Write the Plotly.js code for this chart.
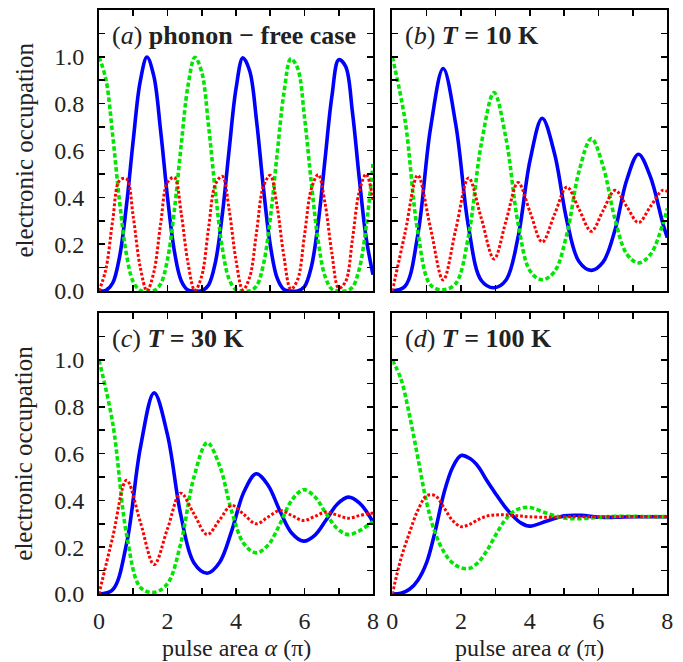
<!DOCTYPE html>
<html>
<head>
<meta charset="utf-8">
<script src="https://cdn.plot.ly/plotly-3.0.1.min.js"></script>
<style>html,body{margin:0;padding:0;background:#fff;}#chart{width:683px;height:662px;}</style>
</head>
<body>
<div id="chart"></div>
<script>
// ---------- data ----------
// panel (a): phonon-free case
const xA = [0,0.2,0.4,0.6,0.8,1.0,1.2,1.4,1.6,1.8,2.0,2.2,2.4,2.6,2.8,3.0,3.2,3.4,3.6,3.8,4.0,4.2,4.4,4.6,4.8,5.0,5.2,5.4,5.6,5.8,6.0,6.2,6.4,6.6,6.8,7.0,7.2,7.4,7.6,7.8,8.0];
const blueA = [0,0.0024,0.0341,0.1460,0.3629,0.6445,0.8923,0.9988,0.9184,0.6831,0.4008,0.1708,0.0442,0.0040,0,0.0011,0.0259,0.1237,0.3263,0.6031,0.8636,0.9956,0.9397,0.7266,0.4402,0.1974,0.0559,0.0064,0,0.0006,0.0191,0.1032,0.2915,0.5628,0.8314,0.9874,0.9594,0.7632,0.4802,0.2266,0.0695];
const greenA = [1,0.9053,0.6647,0.3818,0.1581,0.0389,0.0031,0,0.0017,0.0301,0.1346,0.3442,0.6238,0.8779,0.9981,0.9343,0.7041,0.4203,0.1838,0.0499,0.0050,0,0.0009,0.0218,0.1132,0.3088,0.5831,0.8466,0.9920,0.9506,0.7426,0.4606,0.2117,0.0624,0.0078,0,0.0004,0.0160,0.0942,0.2745,0.5423];
const redA = [0,0.0923,0.3012,0.4722,0.4790,0.3166,0.1047,0.0012,0.0799,0.2868,0.4645,0.4850,0.3321,0.1181,0.0019,0.0646,0.2700,0.4560,0.4898,0.3470,0.1314,0.0044,0.0593,0.2516,0.4465,0.4938,0.3611,0.1470,0.0080,0.0488,0.2383,0.4362,0.4968,0.3748,0.1608,0.0125,0.0402,0.2208,0.4255,0.4989,0.3882];

// panel (b): T = 10 K
const xB = [0,0.37,0.74,1.11,1.48,1.85,2.22,2.59,2.96,3.31,3.66,4.01,4.36,4.72,5.08,5.43,5.79,6.13,6.48,6.82,7.16,7.51,7.86,8.0];
const blueB = [0,0.02,0.238,0.693,0.95,0.708,0.271,0.045,0.014,0.047,0.231,0.560,0.738,0.586,0.299,0.126,0.088,0.123,0.262,0.474,0.584,0.487,0.294,0.228];
const greenB = [1.0,0.730,0.254,0.026,0.005,0.033,0.237,0.629,0.847,0.650,0.288,0.085,0.048,0.083,0.244,0.510,0.651,0.534,0.306,0.158,0.12,0.156,0.281,0.352];
const redB = [0,0.247,0.494,0.27,0.047,0.265,0.483,0.31,0.137,0.30,0.463,0.336,0.209,0.327,0.444,0.35,0.255,0.343,0.43,0.361,0.292,0.361,0.43,0.425];

// panel (c): T = 30 K
const xC = [0,0.40,0.805,1.21,1.61,2.0,2.385,2.77,3.16,3.52,3.875,4.23,4.59,4.935,5.28,5.625,5.97,6.3,6.625,6.955,7.28,7.6,7.91,8.0];
const blueC = [0,0.018,0.215,0.627,0.86,0.680,0.340,0.134,0.089,0.135,0.270,0.436,0.514,0.465,0.356,0.261,0.226,0.251,0.315,0.384,0.414,0.39,0.33,0.305];
const greenC = [1.0,0.731,0.255,0.028,0.007,0.044,0.215,0.498,0.647,0.549,0.353,0.215,0.176,0.209,0.298,0.400,0.446,0.416,0.345,0.280,0.254,0.27,0.30,0.31];
const redC = [0,0.243,0.486,0.306,0.126,0.279,0.431,0.343,0.254,0.317,0.379,0.34,0.30,0.329,0.357,0.336,0.314,0.332,0.35,0.337,0.324,0.335,0.345,0.345];

// panel (d): T = 100 K
const xD = [0,0.25,0.5,0.75,1.0,1.25,1.5,1.75,2.0,2.25,2.5,2.75,3.0,3.25,3.5,3.75,4.0,4.5,5.0,5.5,6.0,6.5,7.0,7.5,8.0];
const blueD = [0,0.003,0.02,0.06,0.135,0.27,0.43,0.54,0.592,0.58,0.545,0.485,0.43,0.378,0.335,0.303,0.29,0.312,0.334,0.336,0.328,0.328,0.33,0.33,0.33];
const greenD = [1.0,0.92,0.765,0.578,0.39,0.26,0.18,0.133,0.112,0.11,0.135,0.185,0.25,0.31,0.35,0.367,0.37,0.345,0.325,0.322,0.328,0.332,0.332,0.331,0.331];
const redD = [0,0.15,0.262,0.36,0.42,0.42,0.37,0.315,0.288,0.298,0.318,0.333,0.338,0.339,0.336,0.333,0.33,0.328,0.33,0.33,0.33,0.33,0.33,0.33,0.33];

const panelLabels = [
  '(<i>a</i>) <b>phonon − free case</b>',
  '(<i>b</i>) <b><i>T</i> = 10 K</b>',
  '(<i>c</i>) <b><i>T</i> = 30 K</b>',
  '(<i>d</i>) <b><i>T</i> = 100 K</b>'
];
const xTickVals = [0,2,4,6,8];
const xMinorVals = [1,3,5,7];
const yTickVals = [0,0.2,0.4,0.6,0.8,1.0];
const yTickText = ['0.0','0.2','0.4','0.6','0.8','1.0'];
const yMinorVals = [0.1,0.3,0.5,0.7,0.9,1.1];
const yTitle = 'electronic occupation';
const xTitle = 'pulse area <i>α</i> (π)';

// ---------- styling ----------
const FONT = 'Liberation Serif, Times New Roman, serif';
const BLUE = '#0000ff', GREEN = '#00e600', RED = '#ff0000';

const panels = [
  {x: xA, b: blueA, g: greenA, r: redA},
  {x: xB, b: blueB, g: greenB, r: redB},
  {x: xC, b: blueC, g: greenC, r: redC},
  {x: xD, b: blueD, g: greenD, r: redD}
];

const traces = [];
panels.forEach((p, i) => {
  const xa = i === 0 ? 'x' : 'x' + (i + 1);
  const ya = i === 0 ? 'y' : 'y' + (i + 1);
  traces.push({x: p.x, y: p.b, xaxis: xa, yaxis: ya, mode: 'lines',
    line: {color: BLUE, width: 3.6, shape: 'spline', smoothing: 1}});
  traces.push({x: p.x, y: p.g, xaxis: xa, yaxis: ya, mode: 'lines',
    line: {color: GREEN, width: 3.6, dash: '4.5px,2.5px', shape: 'spline', smoothing: 1}});
  traces.push({x: p.x, y: p.r, xaxis: xa, yaxis: ya, mode: 'lines',
    line: {color: RED, width: 3, dash: '2.8px,2px', shape: 'spline', smoothing: 1}});
});

const xDomL = [99/683, 373/683], xDomR = [392.3/683, 667.3/683];
const yDomT = [1 - 291/662, 1 - 10/662], yDomB = [1 - 594/662, 1 - 313.3/662];

function xAxis(domain, anchor, labels) {
  return {domain: domain, anchor: anchor, range: [0, 8], tickmode: 'array', tickvals: xTickVals,
    ticks: 'inside', ticklen: 6, tickwidth: 1.6, tickcolor: '#000',
    minor: {tickmode: 'array', tickvals: xMinorVals, ticks: 'inside', ticklen: 6, tickwidth: 1.6, tickcolor: '#000'},
    showline: true, linecolor: '#000', linewidth: 2, mirror: 'allticks',
    showgrid: false, zeroline: false, showticklabels: labels, ticklabelstandoff: 4,
    tickfont: {family: FONT, size: 24, color: '#222'}};
}
function yAxis(domain, anchor, labels) {
  return {domain: domain, anchor: anchor, range: [0, 1.2], tickmode: 'array', tickvals: yTickVals, ticktext: yTickText,
    ticks: 'inside', ticklen: 6, tickwidth: 1.6, tickcolor: '#000',
    minor: {tickmode: 'array', tickvals: yMinorVals, ticks: 'inside', ticklen: 6, tickwidth: 1.6, tickcolor: '#000'},
    showline: true, linecolor: '#000', linewidth: 2, mirror: 'allticks',
    showgrid: false, zeroline: false, showticklabels: labels, ticklabelstandoff: 8,
    tickfont: {family: FONT, size: 24, color: '#222'}};
}

const annotations = [];
panelLabels.forEach((t, i) => {
  const xr = i === 0 ? 'x domain' : 'x' + (i + 1) + ' domain';
  const yr = i === 0 ? 'y domain' : 'y' + (i + 1) + ' domain';
  annotations.push({text: t, xref: xr, yref: yr, x: 11/274, y: 1 - 25/281,
    xanchor: 'left', yanchor: 'middle', showarrow: false,
    font: {family: FONT, size: 26, color: '#222'}});
});
[[1 - 150.5/662], [1 - 453.7/662]].forEach(v => {
  annotations.push({text: yTitle, xref: 'paper', yref: 'paper', x: 24/683, y: v[0],
    xanchor: 'center', yanchor: 'middle', textangle: -90, showarrow: false,
    font: {family: FONT, size: 25, color: '#222'}});
});
[236/683, 529.8/683].forEach(v => {
  annotations.push({text: xTitle, xref: 'paper', yref: 'paper', x: v, y: 0,
    xanchor: 'center', yanchor: 'bottom', showarrow: false, borderpad: 0,
    font: {family: FONT, size: 24, color: '#222'}});
});

const layout = {
  width: 683, height: 662,
  margin: {l: 0, r: 0, t: 0, b: 0},
  paper_bgcolor: '#fff', plot_bgcolor: '#fff',
  showlegend: false,
  xaxis: xAxis(xDomL, 'y', false),
  yaxis: yAxis(yDomT, 'x', true),
  xaxis2: xAxis(xDomR, 'y2', false),
  yaxis2: yAxis(yDomT, 'x2', false),
  xaxis3: xAxis(xDomL, 'y3', true),
  yaxis3: yAxis(yDomB, 'x3', true),
  xaxis4: xAxis(xDomR, 'y4', true),
  yaxis4: yAxis(yDomB, 'x4', false),
  annotations: annotations
};

Plotly.newPlot('chart', traces, layout, {displayModeBar: false, staticPlot: true});
</script>
</body>
</html>
